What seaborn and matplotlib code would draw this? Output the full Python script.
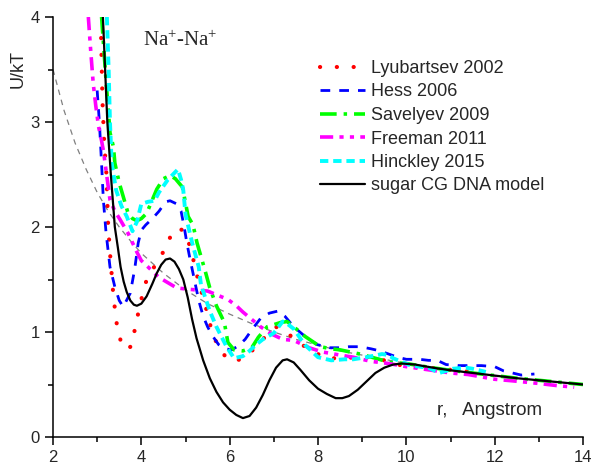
import numpy as np
import pandas as pd
import matplotlib
matplotlib.use("Agg")
import matplotlib.pyplot as plt
import seaborn as sns
from matplotlib.ticker import MultipleLocator

# reference curve (grey dashed)
ref_r = [2.0, 2.25, 2.5, 2.75, 3.0, 3.25, 3.5, 3.75, 4.0, 4.5, 5.0, 5.5, 6.0, 6.5, 7.0,
         7.5, 8.0, 8.5, 9.0, 9.5, 10.0, 11.0, 12.0, 13.0, 14.0]
ref_u = [3.5, 3.11, 2.8, 2.55, 2.33, 2.15, 2.0, 1.87, 1.75, 1.56, 1.4, 1.27, 1.17, 1.08, 1.0,
         0.93, 0.875, 0.82, 0.78, 0.74, 0.70, 0.64, 0.58, 0.54, 0.50]

lyu_r = [3.09, 3.12, 3.16, 3.21, 3.25, 3.3, 3.37, 3.46, 3.58, 3.7, 3.78, 3.85, 3.95, 4.05, 4.13,
         4.35, 4.55, 4.72, 4.85, 4.95, 5.1, 5.2, 5.3, 5.42, 5.5, 5.6, 5.76, 5.9, 6.05, 6.25, 6.41,
         6.55, 6.73, 6.9, 7.07, 7.25, 7.43, 7.6, 7.78, 8.0, 8.16, 8.54, 8.9, 9.33, 9.55, 9.74,
         10.0, 10.5, 11.0, 11.26, 11.7]
lyu_u = [3.8, 3.2, 2.8, 2.5, 2.0, 1.7, 1.33, 1.02, 0.85, 0.84, 0.87, 1.02, 1.22, 1.4, 1.51,
         1.66, 1.8, 1.97, 1.98, 1.97, 1.82, 1.65, 1.47, 1.3, 1.17, 1.0, 0.84, 0.77, 0.72, 0.74, 0.78,
         0.84, 0.92, 1.0, 1.05, 1.0, 0.95, 0.89, 0.84, 0.79, 0.75, 0.75, 0.76, 0.76, 0.72, 0.69,
         0.68, 0.66, 0.64, 0.63, 0.61]

hess_r = [3.0, 3.05, 3.1, 3.14, 3.2, 3.29, 3.4, 3.5, 3.59, 3.75, 3.85, 3.93, 4.0, 4.1, 4.25,
          4.4, 4.55, 4.65, 4.8, 4.9, 4.97, 5.03, 5.1, 5.2, 5.3, 5.4, 5.5, 5.6, 5.75, 5.9, 6.05,
          6.2, 6.35, 6.5, 6.7, 6.9, 7.1, 7.25, 7.45, 7.7, 7.98, 8.27, 8.5, 8.7, 8.95, 9.2, 9.4,
          9.6, 9.8, 10.0, 10.3, 10.5, 10.7, 10.9, 11.2, 11.5, 11.7, 12.0, 12.2, 12.4, 12.6, 12.9]
hess_u = [3.3, 3.0, 2.6, 2.26, 1.95, 1.62, 1.43, 1.3, 1.24, 1.37, 1.6, 1.85, 1.97, 2.02, 2.08,
          2.15, 2.24, 2.25, 2.22, 2.15, 2.0, 1.85, 1.7, 1.5, 1.3, 1.15, 1.05, 0.97, 0.88, 0.84, 0.83,
          0.87, 0.93, 1.02, 1.13, 1.18, 1.2, 1.15, 1.05, 0.96, 0.88, 0.85, 0.85, 0.86, 0.86, 0.84, 0.82,
          0.79, 0.76, 0.74, 0.74, 0.73, 0.73, 0.69, 0.68, 0.68, 0.68, 0.67, 0.63, 0.61, 0.59, 0.60]

sav_r = [3.1, 3.2, 3.29, 3.37, 3.4, 3.5, 3.59, 3.7, 3.8, 3.9, 4.0, 4.12, 4.25, 4.35, 4.5,
         4.65, 4.77, 4.93, 5.06, 5.17, 5.26, 5.37, 5.44, 5.55, 5.7, 5.88, 5.96, 6.1, 6.3, 6.5,
         6.65, 6.85, 7.0, 7.15, 7.3, 7.45, 7.7, 8.05, 8.3, 8.5, 8.95, 9.3, 9.63, 10.0, 10.5,
         11.0, 11.5, 12.0, 12.5, 13.0, 13.5, 14.0]
sav_u = [4.0, 3.4, 2.9, 2.76, 2.61, 2.42, 2.29, 2.13, 2.08, 2.06, 2.08, 2.13, 2.26, 2.36, 2.46,
         2.49, 2.46, 2.38, 2.1, 2.02, 1.85, 1.69, 1.59, 1.42, 1.25, 1.09, 0.9, 0.83, 0.82, 0.85,
         0.95, 1.05, 1.07, 1.09, 1.1, 1.05, 0.96, 0.86, 0.84, 0.83, 0.79, 0.75, 0.71, 0.70, 0.665,
         0.635, 0.61, 0.585, 0.56, 0.54, 0.52, 0.50]

free_r = [2.8, 2.85, 2.91, 2.97, 3.03, 3.1, 3.14, 3.22, 3.29, 3.4, 3.52, 3.7, 3.9, 4.0, 4.2,
          4.4, 4.6, 4.8, 5.0, 5.25, 5.5, 5.73, 5.96, 6.15, 6.3, 6.5, 6.7, 6.95, 7.2, 7.45, 7.8,
          8.1, 8.5, 8.8, 9.2, 9.6, 10.0, 10.5, 11.0, 11.4, 12.0, 12.4, 13.0, 13.4, 13.8]
free_u = [4.0, 3.7, 3.37, 3.15, 2.96, 2.82, 2.73, 2.48, 2.26, 2.15, 2.07, 1.94, 1.76, 1.68, 1.6,
          1.52, 1.47, 1.42, 1.41, 1.40, 1.39, 1.35, 1.31, 1.25, 1.19, 1.12, 1.05, 0.98, 0.93, 0.92, 0.85,
          0.81, 0.78, 0.76, 0.72, 0.70, 0.67, 0.64, 0.61, 0.595, 0.55, 0.535, 0.51, 0.49, 0.475]

hin_r = [3.22, 3.26, 3.29, 3.33, 3.43, 3.55, 3.67, 3.8, 3.9, 4.0, 4.15, 4.3, 4.4, 4.6, 4.83,
         4.9, 4.95, 5.0, 5.15, 5.3, 5.35, 5.55, 5.7, 5.93, 6.1, 6.3, 6.45, 6.6, 6.75, 7.0, 7.2,
         7.3, 7.45, 7.7, 8.0, 8.3, 8.6, 8.8, 9.1, 9.45, 9.6, 9.7, 10.1, 10.5, 10.75, 11.05, 11.35,
         11.5, 11.8]
hin_u = [4.0, 3.5, 3.0, 2.6, 2.35, 2.2, 2.1, 1.96, 2.05, 2.22, 2.24, 2.25, 2.33, 2.45, 2.55,
         2.45, 2.35, 2.12, 1.85, 1.62, 1.45, 1.2, 1.05, 0.86, 0.75, 0.77, 0.82, 0.88, 0.93, 0.99, 1.1,
         1.08, 1.03, 0.88, 0.76, 0.73, 0.74, 0.74, 0.76, 0.79, 0.78, 0.75, 0.68, 0.66, 0.61, 0.65, 0.66,
         0.65, 0.62]

sugar_r = [3.13, 3.18, 3.23, 3.31, 3.40, 3.47, 3.53, 3.6, 3.67, 3.75, 3.83, 3.9, 4.0, 4.12, 4.25,
           4.35, 4.45, 4.55, 4.65, 4.75, 4.85, 4.95, 5.05, 5.15, 5.25, 5.4, 5.55, 5.7, 5.85, 6.0,
           6.15, 6.3, 6.45, 6.6, 6.75, 6.9, 7.05, 7.2, 7.3, 7.45, 7.6, 7.8, 8.0, 8.2, 8.4, 8.55,
           8.7, 8.9, 9.1, 9.3, 9.5, 9.7, 9.9, 10.2, 10.6, 11.0, 11.5, 12.0, 12.5, 13.0, 13.5, 14.0]
sugar_u = [4.0, 3.5, 3.0, 2.5, 2.0, 1.8, 1.62, 1.48, 1.38, 1.30, 1.26, 1.25, 1.27, 1.34, 1.46,
           1.56, 1.64, 1.69, 1.70, 1.67, 1.60, 1.50, 1.33, 1.12, 0.94, 0.73, 0.56, 0.43, 0.33, 0.26,
           0.21, 0.18, 0.20, 0.28, 0.40, 0.54, 0.66, 0.73, 0.74, 0.71, 0.64, 0.54, 0.46, 0.41, 0.37, 0.37,
           0.39, 0.45, 0.53, 0.61, 0.66, 0.69, 0.70, 0.69, 0.66, 0.635, 0.61, 0.585, 0.56, 0.54, 0.52, 0.50]

labels = ["Lyubartsev 2002", "Hess 2006", "Savelyev 2009", "Freeman 2011",
          "Hinckley 2015", "sugar CG DNA model"]

sns.set_style("ticks")
plt.rcParams["font.family"] = ["Liberation Sans", "DejaVu Sans"]
plt.rcParams["lines.scale_dashes"] = False
plt.rcParams["mathtext.fontset"] = "custom"
plt.rcParams["mathtext.rm"] = "Liberation Serif"
plt.rcParams["mathtext.it"] = "Liberation Serif:italic"

fig = plt.figure(figsize=(5.94, 4.68), dpi=100)
ax = fig.add_axes([53 / 594, 31 / 468, 530 / 594, 420 / 468])

series = [
    (lyu_r, lyu_u, "#ff0000", (0, (0.1, 12.0)), 3.0, "round"),
    (hess_r, hess_u, "#0000ff", (0, (7.0, 6.5)), 2.0, "butt"),
    (sav_r, sav_u, "#00ff00", (0, (12.0, 5.0, 2.5, 5.0)), 2.6, "butt"),
    (free_r, free_u, "#ff00ff", (0, (9.5, 4.5, 3.0, 4.5, 3.0, 4.5)), 2.6, "butt"),
    (hin_r, hin_u, "#00ffff", (0, (6.0, 3.5)), 2.8, "butt"),
    (sugar_r, sugar_u, "black", "-", 1.6, "butt"),
]

sns.lineplot(x=ref_r, y=ref_u, ax=ax, color="#808080", linestyle=(0, (4, 3.5)), linewidth=0.9)

handles = []
for (r, u, col, ls, lw, cap), lab in zip(series, labels):
    sns.lineplot(x=r, y=u, ax=ax, color=col, linestyle=ls, linewidth=lw,
                 dash_capstyle=cap, zorder=5 if col == "black" else 3)
    handles.append(ax.get_lines()[-1])

ax.set_xlim(2, 14)
ax.set_ylim(0, 4)
ax.xaxis.set_major_locator(MultipleLocator(2))
ax.xaxis.set_minor_locator(MultipleLocator(1))
ax.yaxis.set_major_locator(MultipleLocator(1))
ax.yaxis.set_minor_locator(MultipleLocator(0.5))
ax.tick_params(which="major", length=5.5, width=1.1, labelsize=12, pad=4, color="black")
ax.tick_params(which="minor", length=3.5, width=1.1, color="black")
for s in ["left", "bottom"]:
    ax.spines[s].set_linewidth(1.1)
    ax.spines[s].set_color("black")
sns.despine(ax=ax)
ax.set_xlabel("")
ax.set_ylabel("")

fig.text(18.5 / 594, 1 - 69 / 468, "U/kT", rotation=90, ha="center", va="center", fontsize=13)
ax.text(10.69, 0.21, "r,   Angstrom", fontsize=13.5, ha="left", va="baseline")
ax.text(4.88, 3.78, r"$\mathrm{Na}^{+}\mathrm{\text{-}Na}^{+}$", fontsize=15, ha="center", va="center")

ax.legend(handles, labels, loc="upper left", bbox_to_anchor=(320 / 594, 1 - 60 / 468),
          bbox_transform=fig.transFigure, frameon=False, borderaxespad=0, borderpad=0,
          handlelength=2.5, handletextpad=0.35, labelspacing=0.36, fontsize=13)

fig.savefig("out.png", dpi=100)
